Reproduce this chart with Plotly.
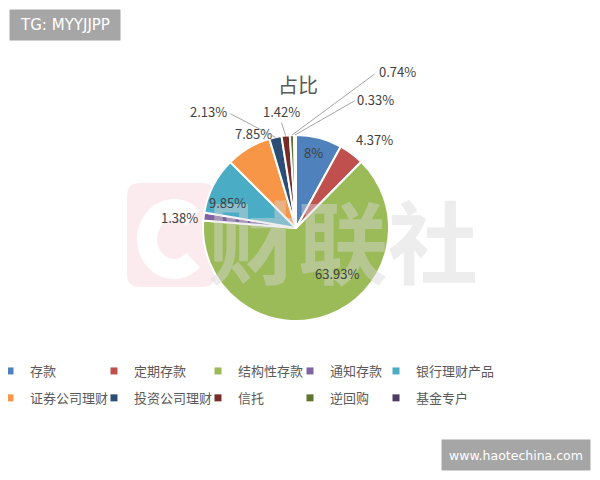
import math
import plotly.graph_objects as go

categories = ["存款", "定期存款", "结构性存款", "通知存款", "银行理财产品",
              "证券公司理财", "投资公司理财", "信托", "逆回购", "基金专户"]
shares = [8, 4.37, 63.93, 1.38, 9.85, 7.85, 2.13, 1.42, 0.74, 0.33]
value_labels = ["8%", "4.37%", "63.93%", "1.38%", "9.85%", "7.85%",
                "2.13%", "1.42%", "0.74%", "0.33%"]
colors = ["#4F81BD", "#C0504D", "#9BBB59", "#8064A2", "#4BACC6",
          "#F79646", "#2C4D75", "#772C2A", "#5F7530", "#4D3B62"]

# the page body has an 8px margin, so the figure is drawn 8px in from the corner
OFF = 8
W, H = 600 - OFF, 480 - OFF
CX, CY, R = 296, 228, 93
FONT = "Noto Sans CJK SC, Noto Sans, sans-serif"
TXT = "#404040"

def px(x):
    return (x - OFF) / W

def py(y):
    return 1 - (y - OFF) / H

fig = go.Figure(go.Pie(
    labels=categories, values=shares, sort=False, direction="clockwise",
    rotation=0, textinfo="none", hoverinfo="label+value", showlegend=False,
    marker=dict(colors=colors, line=dict(color="white", width=2)),
    domain=dict(x=[px(CX - R), px(CX + R)], y=[py(CY + R), py(CY - R)]),
))

# legend: five columns of two rows (one legend box per column)
NCOL = 5
col_text_x = [30, 134, 238, 330, 416]
for i, (cat, col) in enumerate(zip(categories, colors)):
    c = i % NCOL
    fig.add_trace(go.Scatter(
        x=[None], y=[None], mode="markers", name=cat, legendgroup=cat,
        legend="legend" if c == 0 else f"legend{c + 1}",
        marker=dict(symbol="square", size=7, color=col), hoverinfo="skip"))

# label placement (pixel centres) and leader line start points
label_pos = {0: (313, 153), 1: (374, 140), 2: (337, 273), 3: (180, 217),
             4: (227, 202), 5: (254, 134), 6: (208, 112), 7: (281, 112),
             8: (397, 72), 9: (375, 99)}
leader = {6: (229, 113), 7: (281, 121), 8: (376, 73), 9: (356, 100)}


def ann(x, y, text, **kw):
    d = dict(x=px(x), y=py(y), xref="paper", yref="paper", text=text,
             showarrow=False, xanchor="center", yanchor="middle")
    d.update(kw)
    return d


annotations = []
# watermark text (semi-transparent, over the pie)
annotations.append(ann(343, 238, "<b>财联社</b>",
                       font=dict(size=90, color="rgba(215,215,215,0.45)", family=FONT)))

total = sum(shares)
cum = 0
for i, v in enumerate(shares):
    mid = (cum + v / 2) / total * 2 * math.pi
    cum += v
    lx, ly = label_pos[i]
    annotations.append(ann(lx, ly, value_labels[i],
                           font=dict(size=13, color=TXT, family=FONT)))
    if i in leader:
        ex = CX + R * math.sin(mid)
        ey = CY - R * math.cos(mid)
        sx, sy = leader[i]
        annotations.append(dict(x=px(ex), y=py(ey), xref="paper", yref="paper",
                                ax=sx - ex, ay=sy - ey,
                                text="", showarrow=True, arrowhead=0,
                                arrowwidth=1, arrowcolor="#A6A6A6", standoff=0,
                                startstandoff=0))

# title
annotations.append(ann(298, 84, "占比", font=dict(size=20, color="#595959", family=FONT)))
# corner tags
annotations.append(ann(65, 25, "TG: MYYJJPP", bgcolor="#A6A6A6", width=102, height=22,
                       borderpad=4, font=dict(size=15, color="white", family="DejaVu Sans")))
annotations.append(ann(516, 455, "www.haotechina.com", bgcolor="#A6A6A6", width=140,
                       height=22, borderpad=4,
                       font=dict(size=12.5, color="white", family="DejaVu Sans")))

# logo block of the background watermark
rr = (f"M {px(140)},{py(183)} L {px(202)},{py(183)} Q {px(215)},{py(183)} {px(215)},{py(196)} "
      f"L {px(215)},{py(274)} Q {px(215)},{py(287)} {px(202)},{py(287)} L {px(140)},{py(287)} "
      f"Q {px(127)},{py(287)} {px(127)},{py(274)} L {px(127)},{py(196)} Q {px(127)},{py(183)} {px(140)},{py(183)} Z")
arc_pts = []
for k in range(29):
    a = math.radians(45 + k * 270 / 28)
    arc_pts.append((px(174 + 27 * math.cos(a)), py(239 - 30 * math.sin(a))))
cpath = "M " + " L ".join(f"{x},{y}" for x, y in arc_pts)
shapes = [
    dict(type="path", xref="paper", yref="paper", layer="below", path=rr,
         fillcolor="rgba(250,215,222,0.5)", line=dict(width=0)),
    dict(type="path", xref="paper", yref="paper", layer="below", path=cpath,
         line=dict(color="white", width=20)),
]

legend_layout = {}
for c in range(NCOL):
    key = "legend" if c == 0 else f"legend{c + 1}"
    legend_layout[key] = dict(
        orientation="v", x=px(col_text_x[c] - 40), y=py(356), xanchor="left",
        yanchor="top", itemwidth=30, tracegroupgap=7, bgcolor="rgba(0,0,0,0)",
        font=dict(size=13, color="#595959", family=FONT))

fig.update_layout(
    width=W, height=H, margin=dict(l=0, r=0, t=0, b=0, autoexpand=False),
    paper_bgcolor="white", plot_bgcolor="white",
    xaxis=dict(visible=False), yaxis=dict(visible=False),
    annotations=annotations, shapes=shapes, **legend_layout,
)

fig.write_html("out.html")
